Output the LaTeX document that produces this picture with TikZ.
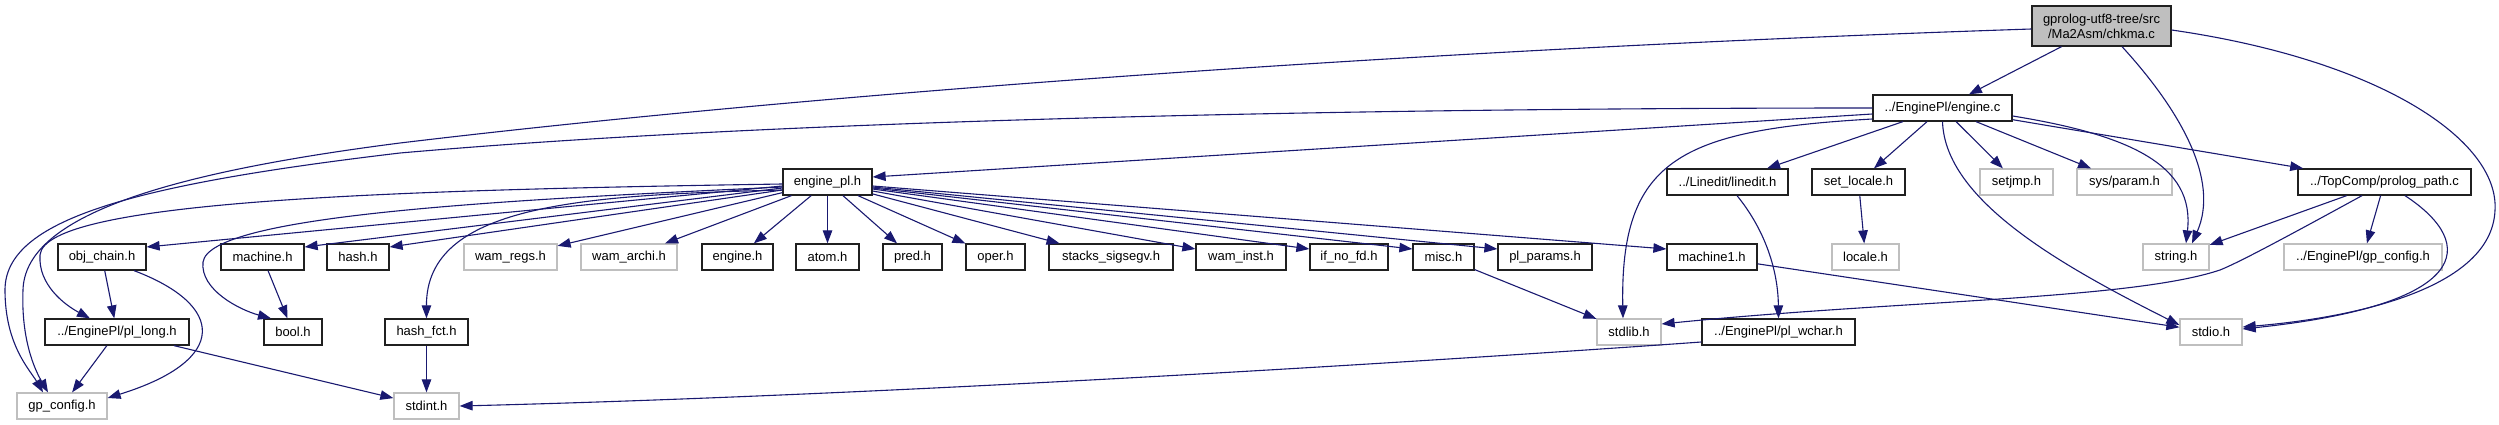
\documentclass[tikz,border=0pt]{standalone}
\usepackage{fontspec}
\setmainfont{Liberation Sans}
\usetikzlibrary{arrows.meta,calc}
\definecolor{edgec}{HTML}{191970}
\definecolor{grayb}{HTML}{BFBFBF}
\definecolor{fillc}{HTML}{BFBFBF}
\definecolor{boxb}{HTML}{202020}
\tikzset{
  box/.style={draw=boxb, line width=1.25pt, rectangle, minimum height=26pt, inner sep=0pt,
              font=\fontsize{13}{15}\selectfont, text=black},
  gbox/.style={box, draw=grayb},
  edge/.style={draw=edgec, line width=1.1pt, -{Triangle[length=13pt,width=9.5pt]}, fill=none},
}
\begin{document}
\begin{tikzpicture}[x=1pt,y=-1pt]
\useasboundingbox (0,0) rectangle (2499,425);
% row 0
\node[box, minimum width=139pt, minimum height=40pt, fill=fillc, align=center] (chk) at (2101.5,26) {gprolog-utf8-tree/src\\/Ma2Asm/chkma.c};
% row 1
\node[box, minimum width=139pt] (ec) at (1942.5,108) {../EnginePl/engine.c};
% row 2
\node[box, minimum width=89pt] (epl) at (827.5,182) {engine\_pl.h};
\node[box, minimum width=121pt] (led) at (1727.5,182) {../Linedit/linedit.h};
\node[box, minimum width=93pt] (sloc) at (1858.5,182) {set\_locale.h};
\node[gbox, minimum width=73pt] (sjmp) at (2016.5,182) {setjmp.h};
\node[gbox, minimum width=95pt] (spar) at (2124.5,182) {sys/param.h};
\node[box, minimum width=173pt] (ppath) at (2384.5,182) {../TopComp/prolog\_path.c};
% row 3
\node[box, minimum width=88pt] (obj) at (102,257) {obj\_chain.h};
\node[box, minimum width=83pt] (mach) at (262.5,257) {machine.h};
\node[box, minimum width=62pt] (hash) at (358,257) {hash.h};
\node[gbox, minimum width=93pt] (wreg) at (510.5,257) {wam\_regs.h};
\node[gbox, minimum width=96pt] (warc) at (629,257) {wam\_archi.h};
\node[box, minimum width=71pt] (engh) at (737.5,257) {engine.h};
\node[box, minimum width=63pt] (atom) at (827.5,257) {atom.h};
\node[box, minimum width=59pt] (pred) at (912.5,257) {pred.h};
\node[box, minimum width=59pt] (oper) at (995.5,257) {oper.h};
\node[box, minimum width=124pt] (stk) at (1111,257) {stacks\_sigsegv.h};
\node[box, minimum width=90pt] (winst) at (1241,257) {wam\_inst.h};
\node[box, minimum width=78pt] (ifno) at (1349,257) {if\_no\_fd.h};
\node[box, minimum width=61pt] (misc) at (1443.5,257) {misc.h};
\node[box, minimum width=94pt] (plp) at (1545,257) {pl\_params.h};
\node[box, minimum width=90pt] (mach1) at (1712,257) {machine1.h};
\node[gbox, minimum width=67pt] (loc) at (1865.5,257) {locale.h};
\node[gbox, minimum width=66pt] (str) at (2176,257) {string.h};
\node[gbox, minimum width=158pt] (egp) at (2363,257) {../EnginePl/gp\_config.h};
% row 4
\node[box, minimum width=144pt] (pll) at (117,332) {../EnginePl/pl\_long.h};
\node[box, minimum width=58pt] (bool) at (293,332) {bool.h};
\node[box, minimum width=83pt] (hfct) at (426.5,332) {hash\_fct.h};
\node[gbox, minimum width=64pt] (stdlib) at (1629,332) {stdlib.h};
\node[box, minimum width=153pt] (pwc) at (1778.5,332) {../EnginePl/pl\_wchar.h};
\node[gbox, minimum width=62pt] (stdio) at (2211,332) {stdio.h};
% row 5
\node[gbox, minimum width=90pt] (gp) at (62,406) {gp\_config.h};
\node[gbox, minimum width=65pt] (stdint) at (426.5,406) {stdint.h};

% ---- edges from chkma.c
\draw[edge] (chk) -- (ec);
\draw[edge] ([xshift=20.5pt]chk.south) .. controls (2180,110) and (2220,180) .. ([xshift=16pt]str.north);
\draw[edge] ([yshift=-4pt]chk.east) .. controls (2380,60) and (2499,140) .. (2495,210)
   .. controls (2492,290) and (2350,318) .. ([yshift=5pt]stdio.east);
\draw[edge] ([yshift=-3pt]chk.west) .. controls (1400,50) and (800,95) .. (400,143)
   .. controls (150,175) and (25,220) .. (23,290) .. controls (21,340) and (35,370) .. ([xshift=-14pt]gp.north);

% ---- edges from engine.c
\draw[edge] (ec.west) .. controls (1400,108) and (800,118) .. (400,153)
   .. controls (130,185) and (5,220) .. (5,290) .. controls (5,345) and (30,370) .. ([xshift=-19pt]gp.north);
\draw[edge] ([yshift=-6pt]ec.west) -- ([yshift=5pt]epl.east);
\draw[edge] ([yshift=-11pt]ec.west) .. controls (1680,130) and (1620,160) .. ([xshift=-6pt]stdlib.north);
\draw[edge] (ec) -- (led);
\draw[edge] (ec) -- (sloc);
\draw[edge] (ec) -- (sjmp);
\draw[edge] (ec) -- (spar);
\draw[edge] ([yshift=-8pt]ec.east) .. controls (2130,135) and (2195,165) .. ([xshift=10pt]str.north);
\draw[edge] (ec) -- (ppath);
\draw[edge] (ec.south) .. controls (1945,200) and (2060,265) .. ([yshift=7pt]stdio.west);

% ---- edges from prolog_path.c
\draw[edge] (ppath) -- (str);
\draw[edge] (ppath) -- (egp);
\draw[edge] ([xshift=-22.5pt]ppath.south) .. controls (2290,235) and (2240,262) .. (2220,270)
   .. controls (2130,300) and (1900,300) .. ([yshift=8pt]stdlib.east);
\draw[edge] ([xshift=20.5pt]ppath.south) .. controls (2480,245) and (2470,305) .. ([yshift=3pt]stdio.east);

% ---- edges from engine_pl.h
\draw[edge] ([yshift=-2pt]epl.west) .. controls (400,190) and (45,200) .. (40,255)
   .. controls (38,285) and (65,305) .. ([xshift=-27pt]pll.north);
\draw[edge] ([yshift=-4pt]epl.west) -- ([yshift=10pt]obj.east);
\draw[edge] ([yshift=-5pt]epl.west) .. controls (500,200) and (210,215) .. (203,262)
   .. controls (200,290) and (240,310) .. ([xshift=-22pt]bool.north);
\draw[edge] ([yshift=-6pt]epl.west) -- ([yshift=10pt]mach.east);
\draw[edge] ([yshift=-8pt]epl.west) -- ([yshift=10pt]hash.east);
\draw[edge] ([yshift=-8pt]epl.west) .. controls (580,195) and (426,205) .. (hfct.north);
\draw[edge] (epl) -- (wreg);
\draw[edge] (epl) -- (warc);
\draw[edge] (epl) -- (engh);
\draw[edge] (epl) -- (atom);
\draw[edge] (epl) -- (pred);
\draw[edge] (epl) -- (oper);
\draw[edge] (epl) -- (stk);
\draw[edge] ([yshift=-9pt]epl.east) -- ([yshift=8pt]winst.west);
\draw[edge] ([yshift=-7pt]epl.east) -- ([yshift=8pt]ifno.west);
\draw[edge] ([yshift=-6pt]epl.east) -- ([yshift=8pt]misc.west);
\draw[edge] ([yshift=-5pt]epl.east) -- ([yshift=8pt]plp.west);
\draw[edge] ([yshift=-4pt]epl.east) -- ([yshift=8pt]mach1.west);

% ---- other edges
\draw[edge] (obj) -- (pll);
\draw[edge] ([xshift=32pt]obj.south) .. controls (225,305) and (230,360) .. ([yshift=8pt]gp.east);
\draw[edge] (pll) -- (gp);
\draw[edge] (pll) -- (stdint);
\draw[edge] (mach) -- (bool);
\draw[edge] (hfct) -- (stdint);
\draw[edge] (misc) -- (stdlib);
\draw[edge] (mach1) -- (stdio);
\draw[edge] (sloc) -- (loc);
\draw[edge] ([xshift=9.5pt]led.south) .. controls (1765,230) and (1778,270) .. (pwc.north);
\draw[edge] ([yshift=-10pt]pwc.west) .. controls (1450,360) and (900,395) .. (stdint.east);
\end{tikzpicture}
\end{document}
